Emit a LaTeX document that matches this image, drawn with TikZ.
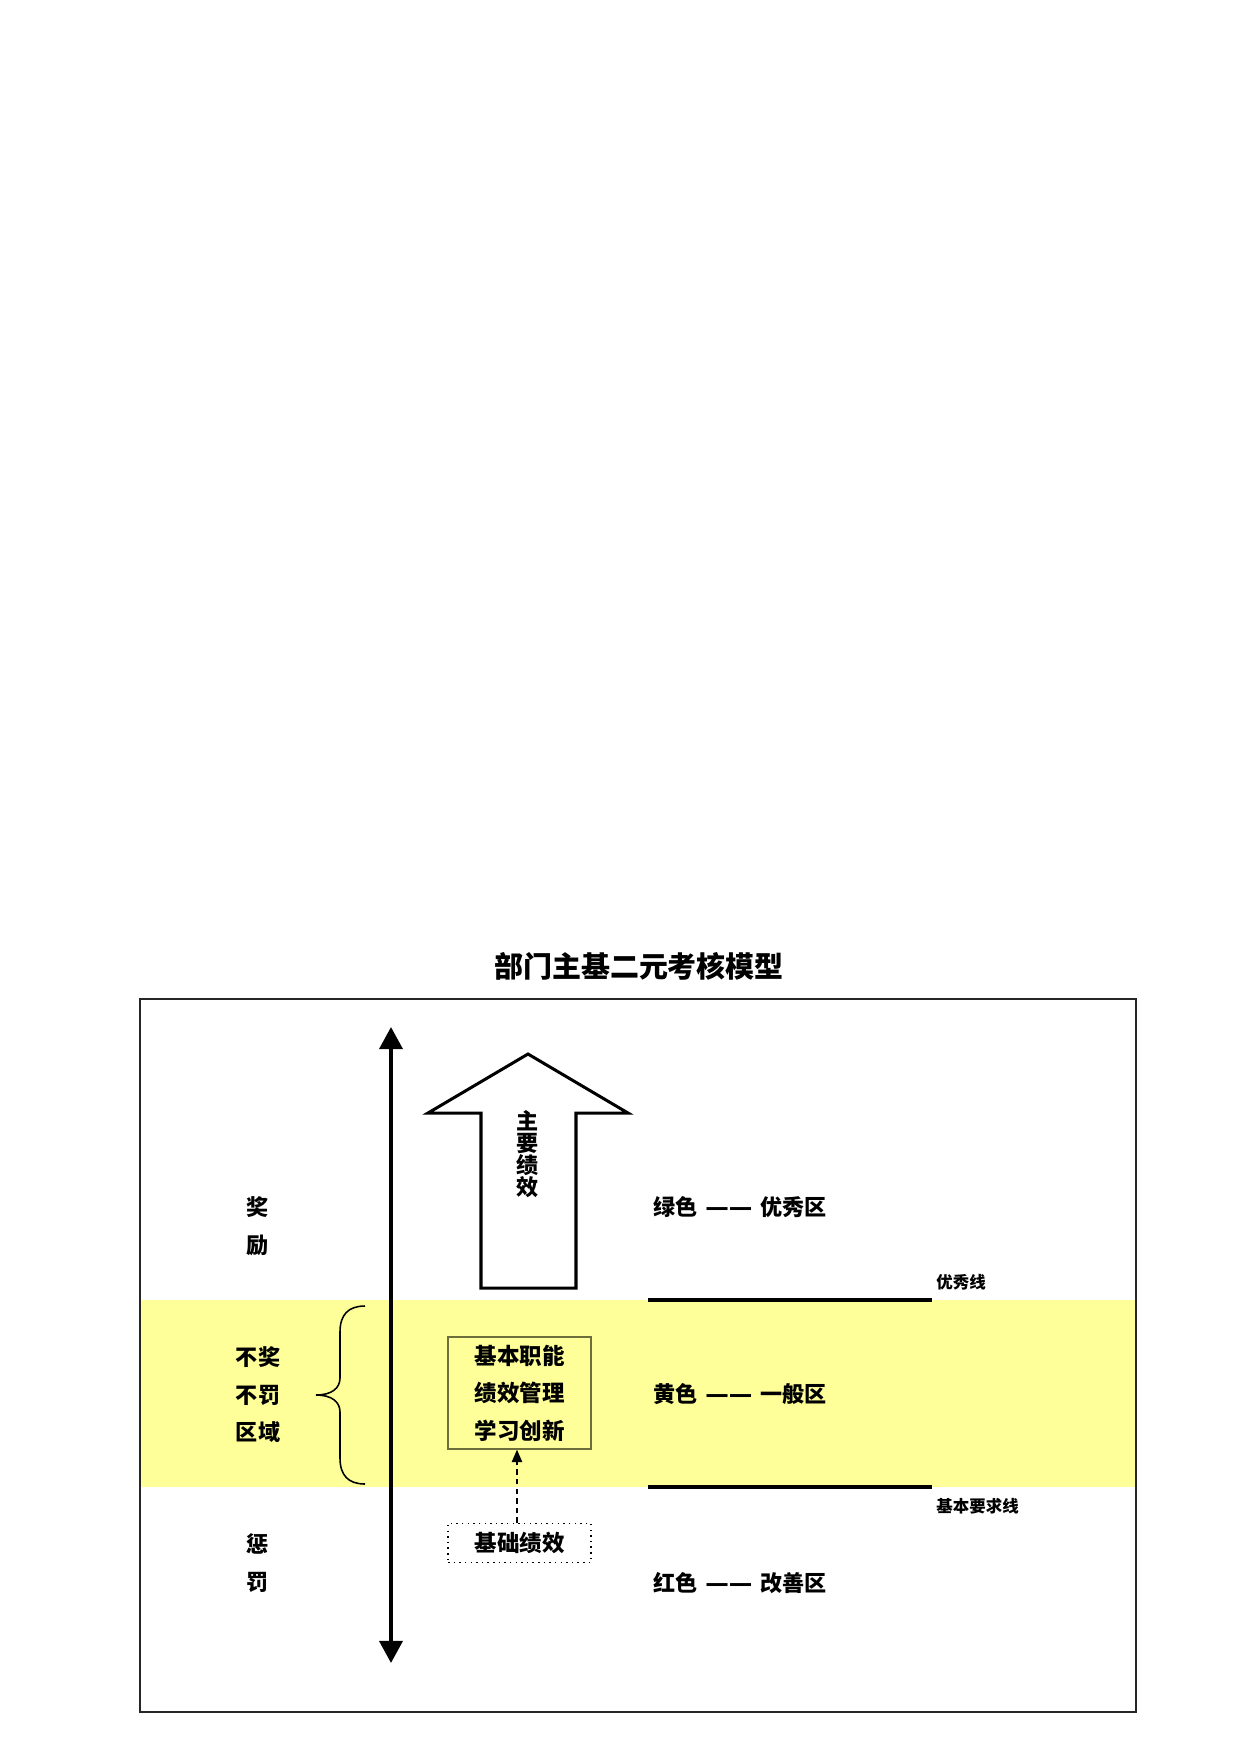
\documentclass[tikz,border=0pt]{standalone}
\usepackage{fontspec}
\setmainfont{Noto Sans CJK SC}
\newfontfamily\dashfont{DejaVu Sans}
\usetikzlibrary{arrows.meta}
\definecolor{bandyellow}{RGB}{255,255,153}
\definecolor{boxolive}{RGB}{110,110,60}
\newcommand{\zdash}{\hspace{3.7pt}{\dashfont\bfseries\fontsize{11.3}{12}\selectfont ——}\hspace{3.7pt}}
\tikzset{
  lbl/.style={font=\bfseries\fontsize{10.6}{18}\selectfont, align=center, inner sep=0pt},
  zonetext/.style={font=\bfseries\fontsize{10.6}{12}\selectfont, anchor=west, inner sep=0pt},
  smalltext/.style={font=\bfseries\fontsize{7.9}{9}\selectfont, anchor=west, inner sep=0pt},
  thickline/.style={line width=1.7pt},
  axis/.style={line width=1.9pt, {Triangle[length=10.6pt,width=11pt]}-{Triangle[length=10.6pt,width=11pt]}},
  bigarrow/.style={line width=1.45pt, fill=white},
  funcbox/.style={draw=boxolive, line width=0.6pt, minimum width=68.6pt, minimum height=53.8pt,
    font=\bfseries\fontsize{10.8}{18}\selectfont, align=center, inner sep=0pt},
  basebox/.style={draw, dotted, line width=0.7pt, minimum width=68.6pt, minimum height=18.7pt,
    font=\bfseries\fontsize{10.8}{12}\selectfont, inner sep=0pt},
  dasharrow/.style={dashed, dash pattern=on 2.6pt off 2pt, line width=0.75pt, -{Triangle[length=6pt,width=5pt]}}
}
\begin{document}
\begin{tikzpicture}[x=0.48pt,y=-0.48pt]
\useasboundingbox (0,0) rectangle (1240,1754);
% title
\node[font=\bfseries\fontsize{13.9}{15}\selectfont, inner sep=0pt] (title) at (639,966) {部门主基二元考核模型};
% yellow band
\fill[bandyellow] (140,1300) rectangle (1136,1487);
% frame
\draw[line width=1pt, black!85] (140,999) rectangle (1136,1712);
% vertical axis
\coordinate (axtop) at (391,1027);
\coordinate (axbot) at (391,1663);
\draw[axis] (axbot) -- (axtop);
% big arrow
\draw[bigarrow] (528,1054) -- (628,1113) -- (576,1113) -- (576,1288) -- (481,1288) -- (481,1113) -- (428,1113) -- cycle;
\node[font=\bfseries\fontsize{10.6}{10.6}\selectfont, align=center, inner sep=0pt] (mainperf) at (528,1154) {主\\要\\绩\\效};
% left labels
\node[lbl] (reward) at (258,1226) {奖\\励};
\node[lbl] (neutral) at (258,1395) {不奖\\不罚\\区域};
\node[lbl] (punish) at (258,1563) {惩\\罚};
% brace
\draw[line width=0.75pt] (365,1306) .. controls (348,1306) and (340,1315) .. (340,1332) -- (340,1378)
  .. controls (340,1388) and (332,1395) .. (316,1395)
  .. controls (332,1395) and (340,1402) .. (340,1412) -- (340,1458)
  .. controls (340,1475) and (348,1484) .. (365,1484);
% boxes
\node[funcbox] (func) at (519.5,1393) {基本职能\\绩效管理\\学习创新};
\node[basebox] (base) at (519.5,1543) {基础绩效};
\draw[dasharrow] (base.north -| 517,0) -- (func.south -| 517,0);
% threshold lines
\coordinate (l1a) at (648,1300); \coordinate (l1b) at (932,1300);
\coordinate (l2a) at (648,1487); \coordinate (l2b) at (932,1487);
\draw[thickline] (l1a) -- (l1b);
\draw[thickline] (l2a) -- (l2b);
\node[smalltext] (exline) at (936,1282) {优秀线};
\node[smalltext] (basicline) at (936,1506) {基本要求线};
% zone texts
\node[zonetext] (green) at (653,1207) {绿色\zdash 优秀区};
\node[zonetext] (yellow) at (653,1394) {黄色\zdash 一般区};
\node[zonetext] (red) at (653,1583) {红色\zdash 改善区};
\end{tikzpicture}
\end{document}
